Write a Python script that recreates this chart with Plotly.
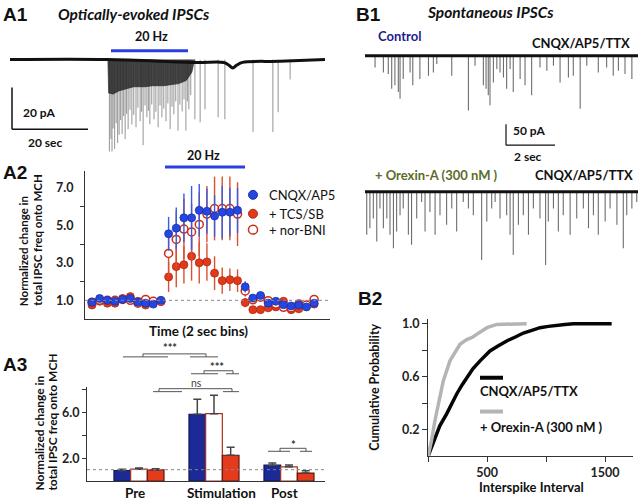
import plotly.graph_objects as go

W, H = 640, 500
def px(x): return x / W
def py(y): return 1 - y / H

# ---------------- A1: optically-evoked trace (time s, current pA) ----------------
a1_base_t = [0, 26.0, 49.5, 57.0, 58.3, 59.4, 60.5, 62.0, 72.0, 84]
a1_base_pA = [0, 0, -1.4, -1.4, -2.6, -4.0, -2.6, -1.3, -0.8, 0]
a1_dense_t = [26.1, 26.3, 27.5, 29.0, 31.0, 33.0, 36.0, 38.0, 41.0, 43.0, 45.0, 47.0, 48.5, 49.2]
a1_dense_pA = [0, -16.0, -16.5, -15.0, -14.0, -13.0, -13.0, -12.5, -12.5, -12.0, -11.5, -10.0, -6.0, 0]
a1_evt_t = [26.5, 26.9, 27.2, 27.5, 27.9, 28.3, 28.7, 29.1, 29.5, 29.9, 30.3, 30.7, 31.1, 31.5,
            32.0, 32.5, 33.0, 33.6, 34.1, 34.7, 35.1, 35.5, 36.0, 36.5, 36.9, 37.3, 37.8, 38.4,
            38.9, 39.5, 40.0, 40.5, 41.0, 41.6, 42.1, 42.7, 43.2, 43.7, 44.2, 44.8, 45.3, 45.9,
            46.4, 46.9, 47.3, 47.7, 48.2,
            49.3, 50.7, 52.0, 55.5, 57.3, 64.8, 70.1, 71.5, 74.7]
a1_evt_pA = [44.0, 38.0, 44.0, 33.0, 42.8, 30.5, 40.0, 36.0, 29.0, 35.7, 27.0, 38.1, 26.0, 33.3,
             24.0, 31.0, 26.5, 32.4, 23.0, 29.5, 25.0, 41.0, 22.0, 27.6, 24.5, 31.0, 21.5, 28.6,
             25.0, 32.4, 22.0, 27.6, 23.5, 29.5, 21.0, 33.3, 22.5, 26.2, 20.0, 34.0, 21.5, 24.8,
             19.0, 34.0, 20.0, 23.8, 17.0,
             28.6, 30.0, 23.8, 27.6, 28.6, 34.7, 34.7, 25.2, 9.5]

# ---------------- A2: 2-s bins ----------------
bins = list(range(1, 31))
cnqx = [0.9, 1.1, 1.0, 0.95, 1.05, 1.1, 0.9, 0.85, 0.8, 1.0,
        4.55, 4.85, 5.4, 5.4, 5.8, 5.75, 5.5, 5.7, 5.7, 5.8,
        1.72, 1.12, 1.26, 0.85, 0.95, 0.77, 0.7, 0.75, 0.65, 0.85]
cnqx_err = [0.1] * 10 + [0.9, 1.1, 1.3, 1.7, 1.4, 1.2, 1.1, 1.4, 1.3, 1.2] + [0.3, 0.15, 0.15, 0.1, 0.1, 0.1, 0.1, 0.1, 0.1, 0.1]
tcs = [0.75, 0.95, 0.85, 0.85, 1.1, 1.2, 0.95, 0.75, 0.95, 0.95,
       2.25, 2.8, 2.9, 3.35, 3.0, 3.05, 2.45, 2.05, 2.1, 2.05,
       0.88, 0.5, 0.5, 0.6, 0.65, 0.95, 0.5, 0.55, 0.7, 0.8]
tcs_err = [0.1] * 10 + [0.8, 1.1, 1.0, 1.3, 1.1, 1.0, 0.9, 0.7, 0.6, 0.6] + [0.25, 0.1, 0.1, 0.1, 0.1, 0.1, 0.1, 0.1, 0.1, 0.1]
nor = [0.9, 1.0, 1.0, 1.0, 1.05, 1.0, 0.85, 1.05, 0.95, 0.95,
       3.5, 4.25, 4.8, 4.65, 5.05, 5.6, 5.9, 5.9, 5.9, 5.6,
       1.5, 1.03, 1.17, 0.98, 0.8, 0.63, 0.6, 0.8, 0.75, 1.05]
nor_err = [0.1] * 10 + [1.2, 1.5, 1.6, 1.5, 1.7, 1.5, 1.7, 1.7, 1.7, 1.7] + [0.3, 0.15, 0.15, 0.1, 0.1, 0.1, 0.1, 0.1, 0.1, 0.1]

# ---------------- A3: summary bars ----------------
phases = ["Pre", "Stimulation", "Post"]
a3_cnqx = [0.93, 5.85, 1.39]
a3_cnqx_err = [0.1, 1.3, 0.2]
a3_nor = [1.04, 5.9, 1.25]
a3_nor_err = [0.1, 1.6, 0.15]
a3_tcs = [0.99, 2.26, 0.7]
a3_tcs_err = [0.1, 0.7, 0.2]

# ---------------- B1: spontaneous IPSC events (time s, amplitude pA) ----------------
ctrl_t = [0.41, 0.75, 0.95, 1.09, 1.22, 1.36, 1.43, 1.56, 1.84, 1.95, 2.24, 2.59, 2.79, 2.93, 3.54,
          4.22, 4.49, 4.83, 4.94, 5.03, 5.10, 5.24, 5.38, 5.51, 5.65, 5.78, 5.92, 6.05, 6.33, 6.53,
          6.80, 7.14, 7.42, 7.69, 7.96, 8.30, 8.50, 8.78, 9.05, 9.52, 9.86, 10.13, 10.34, 10.61, 10.89]
ctrl_pA = [28, 40, 44, 79, 71, 87, 103, 56, 40, 71, 56, 48, 40, 20, 48,
           131, 24, 71, 79, 95, 119, 64, 32, 40, 52, 79, 32, 87, 56, 71,
           95, 28, 36, 24, 64, 52, 48, 127, 24, 40, 28, 48, 36, 44, 56]
orx_t = [0.07, 0.20, 0.34, 0.48, 0.61, 0.75, 0.89, 1.02, 1.16, 1.29, 1.43, 1.56, 1.77, 1.90, 2.11,
         2.31, 2.45, 2.65, 2.86, 3.06, 3.33, 3.54, 3.74, 4.01, 4.22, 4.42, 4.76, 4.97, 5.17, 5.31,
         5.51, 5.78, 5.92, 6.05, 6.26, 6.46, 6.67, 6.87, 7.14, 7.37, 7.48, 7.69, 7.89, 8.09, 8.37,
         8.64, 8.91, 9.12, 9.32, 9.52, 9.80, 10.0, 10.28, 10.54, 10.68, 10.89, 11.09]
orx_pA = [103, 87, 64, 119, 40, 87, 64, 103, 135, 95, 56, 40, 103, 127, 64,
          24, 95, 48, 103, 56, 79, 40, 95, 24, 40, 56, 163, 71, 40, 24,
          64, 56, 103, 151, 79, 56, 103, 40, 64, 175, 71, 40, 95, 56, 103,
          64, 40, 87, 56, 103, 71, 40, 79, 135, 56, 40, 24]

# ---------------- B2: cumulative distributions ----------------
orx_isi = [0, 30, 59, 95, 130, 186, 230, 271, 328, 380, 412, 460, 500, 582, 700, 836]
orx_cum = [0.0, 0.12, 0.27, 0.42, 0.57, 0.72, 0.79, 0.845, 0.88, 0.90, 0.92, 0.95, 0.97, 0.995, 1.0, 1.0]
ctrl_isi = [0, 30, 59, 100, 158, 200, 243, 290, 328, 380, 441, 525, 600, 667, 740, 808, 880, 949,
            1020, 1090, 1160, 1231, 1350, 1556]
ctrl_cum = [0.0, 0.07, 0.145, 0.23, 0.32, 0.40, 0.47, 0.54, 0.595, 0.66, 0.72, 0.795, 0.835, 0.87,
            0.90, 0.93, 0.95, 0.97, 0.98, 0.99, 0.995, 1.0, 1.0, 1.0]

BLUE = '#2547e0'
RED = '#e2391b'
BLUE3 = '#1b2a96'
RED3 = '#e33b1b'
FONT = 'Lato'


def spikes(ts, amps):
    xs, ys = [], []
    for t, a in zip(ts, amps):
        xs += [t, t, None]
        ys += [0, -a, None]
    return xs, ys


fig = go.Figure()

# A1 trace
sx, sy = spikes(a1_evt_t, a1_evt_pA)
fig.add_trace(go.Scatter(x=sx, y=sy, mode='lines', line=dict(color='rgba(90,90,90,0.65)', width=1),
                         xaxis='x', yaxis='y', hoverinfo='skip'))
fig.add_trace(go.Scatter(x=a1_dense_t, y=a1_dense_pA, mode='lines', fill='toself',
                         fillcolor='rgba(30,30,30,0.8)', line=dict(color='rgba(30,30,30,0.6)', width=1),
                         xaxis='x', yaxis='y', hoverinfo='skip'))
fig.add_trace(go.Scatter(x=a1_base_t, y=a1_base_pA, mode='lines', line=dict(color='#111', width=3),
                         line_shape='spline', xaxis='x', yaxis='y', hoverinfo='skip'))

# B1 traces
for ts, amps, xa, ya in [(ctrl_t, ctrl_pA, 'x2', 'y2'), (orx_t, orx_pA, 'x3', 'y3')]:
    sx, sy = spikes(ts, amps)
    fig.add_trace(go.Scatter(x=sx, y=sy, mode='lines', line=dict(color='rgba(60,60,60,0.75)', width=1.1),
                             xaxis=xa, yaxis=ya, hoverinfo='skip'))
    fig.add_trace(go.Scatter(x=[0, 11.14], y=[0, 0], mode='lines', line=dict(color='#111', width=3),
                             xaxis=xa, yaxis=ya, hoverinfo='skip'))

# A2 points
fig.add_trace(go.Scatter(x=bins, y=tcs, mode='markers', xaxis='x4', yaxis='y4',
                         error_y=dict(type='data', array=tcs_err, color='#d9502f', thickness=1.4, width=0),
                         marker=dict(color=RED, size=8, line=dict(color='#b02810', width=0.8))))
fig.add_trace(go.Scatter(x=bins, y=nor, mode='markers', xaxis='x4', yaxis='y4',
                         error_y=dict(type='data', array=nor_err, color='#d9502f', thickness=1.4, width=0),
                         marker=dict(color='white', size=8, line=dict(color='#c8301a', width=1.5))))
fig.add_trace(go.Scatter(x=bins, y=cnqx, mode='markers', xaxis='x4', yaxis='y4',
                         error_y=dict(type='data', array=cnqx_err, color='#3a5ae0', thickness=1.4, width=0),
                         marker=dict(color=BLUE, size=8, line=dict(color='#1a30b0', width=0.8))))

# A3 bars
for vals, errs, fill, edge in [(a3_cnqx, a3_cnqx_err, BLUE3, '#101850'),
                               (a3_nor, a3_nor_err, 'white', '#a83020'),
                               (a3_tcs, a3_tcs_err, RED3, '#601810')]:
    fig.add_trace(go.Bar(x=[0, 1, 2], y=vals, xaxis='x5', yaxis='y5',
                         marker=dict(color=fill, line=dict(color=edge, width=1.2)),
                         error_y=dict(type='data', array=errs, arrayminus=[0, 0, 0], symmetric=False,
                                      color='#444', thickness=1.5, width=4)))

# B2 curves
fig.add_trace(go.Scatter(x=ctrl_isi, y=ctrl_cum, mode='lines', line=dict(color='#050505', width=3.5),
                         xaxis='x6', yaxis='y6'))
fig.add_trace(go.Scatter(x=orx_isi, y=orx_cum, mode='lines', line=dict(color='#b4b4b4', width=3.5),
                         xaxis='x6', yaxis='y6'))

tickfont = dict(family=FONT, size=12.5, color='#222', weight='bold')
axline = dict(showline=True, linecolor='#333', linewidth=1, showgrid=False, zeroline=False)

fig.update_layout(
    width=640, height=500, margin=dict(l=0, r=0, t=0, b=0),
    paper_bgcolor='white', plot_bgcolor='rgba(0,0,0,0)', showlegend=False,
    barmode='group', bargap=0.333, bargroupgap=0,
    xaxis=dict(domain=[px(10), px(325)], range=[0, 84], visible=False, anchor='y'),
    yaxis=dict(domain=[py(155), py(45)], range=[-46.7, 5.7], visible=False, anchor='x'),
    xaxis2=dict(domain=[px(365), px(638)], range=[0, 11.14], visible=False, anchor='y2'),
    yaxis2=dict(domain=[py(115), py(40)], range=[-147.6, 31], visible=False, anchor='x2'),
    xaxis3=dict(domain=[px(365), px(638)], range=[0, 11.14], visible=False, anchor='y3'),
    yaxis3=dict(domain=[py(265), py(178)], range=[-178.6, 28.6], visible=False, anchor='x3'),
    xaxis4=dict(domain=[px(85), px(330)], range=[0.086, 32.07], anchor='y4', showticklabels=False,
                ticks='', **axline),
    yaxis4=dict(domain=[py(318), py(169)], range=[0, 7.9], anchor='x4', tickvals=[1, 3, 5, 7],
                ticktext=['1.0', '3.0', '5.0', '7.0'], ticks='', ticklabelstandoff=8, tickfont=tickfont,
                minor=dict(tickvals=[2, 4, 6], ticks='outside', ticklen=4, tickcolor='#333'), **axline),
    xaxis5=dict(domain=[px(87), px(325)], range=[-0.693, 2.48], anchor='y5', showticklabels=False,
                ticks='', **axline),
    yaxis5=dict(domain=[py(481), py(386)], range=[0, 8.26], anchor='x5', tickvals=[2, 4, 6, 8],
                ticktext=['2.0', '', '6.0', ''], ticks='outside', ticklen=4, tickcolor='#333',
                tickfont=tickfont, **axline),
    xaxis6=dict(domain=[px(428), px(633)], range=[0, 1737], anchor='y6', tickvals=[0, 500, 1000, 1500],
                ticktext=['', '500', '', '1500'], ticks='outside', ticklen=5, tickcolor='#333',
                tickfont=tickfont, **axline),
    yaxis6=dict(domain=[py(456), py(318)], range=[0, 1.035], anchor='x6', tickvals=[0.2, 0.4, 0.6, 0.8, 1.0],
                ticktext=['0.2', '', '0.6', '', '1.0'], ticks='outside', ticklen=5, tickcolor='#333',
                tickfont=tickfont, **axline),
)


def T(text, x, y, size=13, color='#111', weight='bold', style='normal', family=FONT,
      xa='center', ya='middle', angle=0):
    return dict(text=text, x=px(x), y=py(y), xref='paper', yref='paper', showarrow=False,
                font=dict(size=size, color=color, family=family, weight=weight, style=style),
                xanchor=xa, yanchor=ya, textangle=angle)


anns = [
    T('A1', 15, 12, size=19, family='Liberation Sans'),
    T('Optically-evoked IPSCs', 134, 11, size=15.5, style='italic'),
    T('20 Hz', 151, 34, size=12.5),
    T('20 pA', 39, 110, size=12),
    T('20 sec', 45, 140, size=12),
    T('A2', 15, 171, size=19, family='Liberation Sans'),
    T('20 Hz', 203, 153, size=12.5),
    T('CNQX/AP5', 267, 193, size=13, weight='normal', xa='left'),
    T('+ TCS/SB', 267, 212, size=13, weight='normal', xa='left'),
    T('+ nor-BNI', 267, 228, size=13, weight='normal', xa='left'),
    T('Normalized change in', 23, 307, size=11.5, angle=-90, ya='bottom'),
    T('total IPSC freq onto MCH', 38, 307, size=11.5, angle=-90, ya='bottom'),
    T('Time (2 sec bins)', 198, 330, size=13.5),
    T('A3', 15, 364, size=19, family='Liberation Sans'),
    T('Normalized change in', 40, 493, size=12, angle=-90, ya='bottom'),
    T('total IPSC freq onto MCH', 53, 493, size=12, angle=-90, ya='bottom'),
    T('Pre', 135, 493, size=13.5),
    T('Stimulation', 221, 493, size=13.5),
    T('Post', 284, 493, size=13.5),
    T('***', 170, 347, size=11, color='#333'),
    T('***', 217, 366, size=11, color='#333'),
    T('ns', 196, 382, size=10.5, color='#444', weight='normal'),
    T('*', 293, 444, size=11, color='#333'),
    T('B1', 368, 12, size=19, family='Liberation Sans'),
    T('Spontaneous IPSCs', 490, 9, size=15.5, style='italic'),
    T('Control', 399, 33, size=13, color='#1c1c8c'),
    T('CNQX/AP5/TTX', 632, 40, size=13, xa='right'),
    T('50 pA', 529, 128, size=12),
    T('2 sec', 528, 154, size=12),
    T('+ Orexin-A (300 nM )', 436, 173, size=13, color='#5b6b2a'),
    T('CNQX/AP5/TTX', 635, 173, size=13, xa='right'),
    T('B2', 370, 297, size=19, family='Liberation Sans'),
    T('Cumulative Probability', 375, 387, size=12.5, angle=-90),
    T('Interspike Interval', 531, 487, size=13),
    T('CNQX/AP5/TTX', 478, 390, size=13, xa='left'),
    T('+ Orexin-A (300 nM )', 478, 427, size=13, xa='left'),
]


def L(x0, y0, x1, y1, color='#111', width=1.5, dash='solid'):
    return dict(type='line', xref='paper', yref='paper', x0=px(x0), y0=py(y0), x1=px(x1), y1=py(y1),
                line=dict(color=color, width=width, dash=dash))


def C(cx, cy, r, fill, edge, w=1):
    return dict(type='circle', xref='paper', yref='paper', x0=px(cx - r), x1=px(cx + r),
                y0=py(cy + r), y1=py(cy - r), fillcolor=fill, line=dict(color=edge, width=w))


def bracket(l0, l1, u0, u1, r0, r1, ylow, yup, color='#555'):
    return [L(l0, ylow, l1, ylow, color, 1), L(u0, yup, u1, yup, color, 1),
            L(r0, ylow, r1, ylow, color, 1), L(u0, yup, u0, ylow, color, 1), L(u1, yup, u1, ylow, color, 1)]


shapes = [
    L(111, 48, 188, 48, '#2a3fe0', 3),
    L(12, 85, 12, 127, '#111', 1.5), L(12, 127, 88, 127, '#111', 1.5),
    L(165, 165, 245, 165, '#2a3fe0', 3),
    dict(type='line', xref='x4 domain', yref='y4', x0=0, x1=1, y0=1, y1=1,
         line=dict(color='#888', width=1, dash='dot')),
    dict(type='line', xref='x5 domain', yref='y5', x0=0, x1=1, y0=1, y1=1,
         line=dict(color='#888', width=1, dash='dot')),
    C(253, 193, 4.5, BLUE, '#1a30b0'), C(253, 212, 4.5, RED, '#b02810'), C(253, 228, 4.5, 'white', '#c8301a', 1.5),
    L(506, 122, 506, 143, '#111', 1.2), L(506, 143, 555, 143, '#111', 1.2),
    L(480, 377, 503, 377, '#050505', 4), L(480, 411, 503, 411, '#b4b4b4', 4),
]
shapes += bracket(123, 168, 143, 206, 190, 218, 356, 353)
shapes += bracket(191, 218, 204, 233, 226, 239, 373, 370)
shapes += bracket(153, 182, 159, 232, 223, 239, 391, 388)
shapes += bracket(268, 290, 280, 306, 300, 312, 451, 448)

fig.update_layout(annotations=anns, shapes=shapes)
fig.write_html('out.html', config={'displayModeBar': False},
               post_script="document.body.style.margin='0px';")
